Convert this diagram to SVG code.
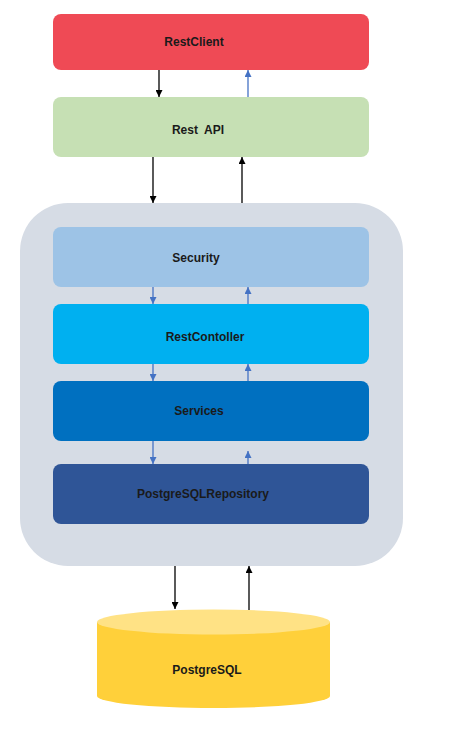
<svg xmlns="http://www.w3.org/2000/svg" width="471" height="741" viewBox="0 0 471 741">
<style>
.lbl{font-family:"Liberation Sans",Arial,sans-serif;font-weight:bold;font-size:12px;fill:#1a1a1a;text-anchor:middle;dominant-baseline:central}
.bk{stroke:#000;stroke-width:1.3;fill:none}
.bl{stroke:#4472C4;stroke-width:1.3;fill:none}
</style>
<defs>
<marker id="ab" viewBox="0 0 10 10" refX="10" refY="5" markerWidth="7" markerHeight="7" markerUnits="userSpaceOnUse" orient="auto"><path d="M0,0 L10,5 L0,10 z" fill="#000"/></marker>
<marker id="au" viewBox="0 0 10 10" refX="10" refY="5" markerWidth="7" markerHeight="7" markerUnits="userSpaceOnUse" orient="auto"><path d="M0,0 L10,5 L0,10 z" fill="#4472C4"/></marker>
</defs>
<rect width="471" height="741" fill="#fff"/>
<g id="container"><rect x="20" y="203" width="383" height="363" rx="48" fill="#D6DCE5"/></g>
<g id="restclient"><rect x="53" y="14" width="316" height="56" rx="8" fill="#EF4A55"/><text class="lbl" x="194" y="42">RestClient</text></g>
<g id="restapi"><rect x="53" y="97" width="316" height="60" rx="8" fill="#C6E0B4"/><text class="lbl" x="198" y="130" xml:space="preserve">Rest  API</text></g>
<g id="security"><rect x="53" y="227" width="316" height="60" rx="8" fill="#9DC3E6"/><text class="lbl" x="196" y="258">Security</text></g>
<g id="restcontroller"><rect x="53" y="304" width="316" height="60" rx="8" fill="#00B0F0"/><text class="lbl" x="205" y="337">RestContoller</text></g>
<g id="services"><rect x="53" y="381" width="316" height="60" rx="8" fill="#0070C0"/><text class="lbl" x="199" y="411">Services</text></g>
<g id="repository"><rect x="53" y="464" width="316" height="60" rx="8" fill="#2F5597"/><text class="lbl" x="203" y="494">PostgreSQLRepository</text></g>
<g id="postgresql">
<path d="M97,622 L97,696 A116.5,12 0 0 0 330,696 L330,622 Z" fill="#FFD03A"/>
<ellipse cx="213.5" cy="622" rx="116.5" ry="12.5" fill="#FFE285"/>
<text class="lbl" x="207" y="670">PostgreSQL</text>
</g>
<g id="connectors">
<line class="bk" x1="159" y1="70" x2="159" y2="97" marker-end="url(#ab)"/>
<line class="bl" x1="248" y1="97" x2="248" y2="70" marker-end="url(#au)"/>
<line class="bk" x1="153" y1="157" x2="153" y2="203" marker-end="url(#ab)"/>
<line class="bk" x1="242" y1="203" x2="242" y2="157" marker-end="url(#ab)"/>
<line class="bl" x1="153" y1="287" x2="153" y2="304" marker-end="url(#au)"/>
<line class="bl" x1="248" y1="304" x2="248" y2="287" marker-end="url(#au)"/>
<line class="bl" x1="153" y1="364" x2="153" y2="381" marker-end="url(#au)"/>
<line class="bl" x1="248" y1="381" x2="248" y2="364" marker-end="url(#au)"/>
<line class="bl" x1="153" y1="441" x2="153" y2="464" marker-end="url(#au)"/>
<line class="bl" x1="248" y1="464" x2="248" y2="451" marker-end="url(#au)"/>
<line class="bk" x1="175" y1="566" x2="175" y2="609" marker-end="url(#ab)"/>
<line class="bk" x1="249" y1="610" x2="249" y2="566" marker-end="url(#ab)"/>
</g>
</svg>
